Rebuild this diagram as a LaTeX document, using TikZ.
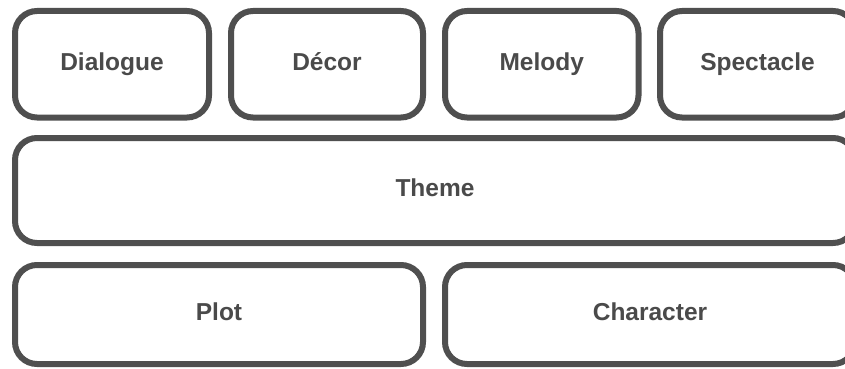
\documentclass[tikz,border=0pt]{standalone}
\usepackage{fontspec}
\setmainfont{Liberation Sans}
\definecolor{edge}{HTML}{4F4F4F}
\definecolor{ink}{HTML}{4A4A4A}
\tikzset{
  box/.style={draw=edge, line width=6pt, rounded corners=22pt, fill=white,
    font=\fontsize{24.5}{28}\selectfont\bfseries, text=ink, inner sep=0pt,
    text height=17pt, text depth=5pt}
}
\begin{document}
\begin{tikzpicture}[x=1pt,y=-1pt]
\useasboundingbox (0,0) rectangle (845,369);
\clip (0,0) rectangle (845,369);
\node[box, minimum width=194, minimum height=106.5] (dialogue) at (112,64.25) {Dialogue};
\node[box, minimum width=192, minimum height=106.5] (decor) at (327,64.25) {Décor};
\node[box, minimum width=193.5, minimum height=106.5] (melody) at (541.75,64.25) {Melody};
\node[box, minimum width=195, minimum height=106.5] (spectacle) at (757.5,64.25) {Spectacle};
\node[box, minimum width=840, minimum height=105] (theme) at (435,190.5) {Theme};
\node[box, minimum width=408, minimum height=99] (plot) at (219,314.5) {Plot};
\node[box, minimum width=410, minimum height=99] (character) at (650,314.5) {Character};
\end{tikzpicture}
\end{document}
